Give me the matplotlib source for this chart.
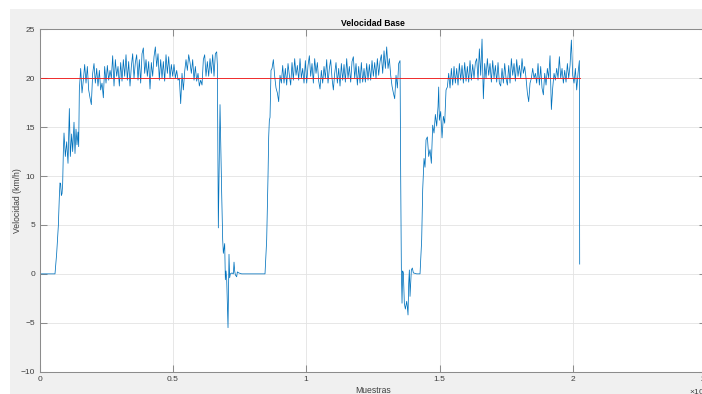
import numpy as np
import matplotlib.pyplot as plt
from matplotlib.patches import Rectangle

plt.rcParams['font.family'] = ['Liberation Sans', 'DejaVu Sans']

# Velocidad base (km/h) frente al número de muestra
PASO = 50  # muestras entre lecturas en los tramos de crucero
REFERENCIA = 20  # km/h

# primer arranque
arranque_muestras = [0, 581, 644, 706, 744, 769, 794, 819, 844, 869, 894, 919, 969,
                     1019, 1069, 1119, 1156, 1206, 1244, 1294, 1331, 1369, 1406, 1444, 1469]
arranque_vel = [0, 0, 2.1, 4.9, 7.9, 9.3, 9.2, 8.0, 8.2, 9.2, 12.5, 14.4, 12.0,
                13.5, 11.3, 16.9, 12.0, 14.3, 12.5, 15.5, 12.3, 14.8, 13.2, 14.5, 13.0]

# primer tramo de crucero
crucero1_inicio = 1494
crucero1_vel = [18.8, 21.0, 18.5, 19.8, 21.4, 19.5, 21.2, 18.8, 18.0, 17.3,
                20.5, 21.5, 19.5, 21.0, 19.2, 20.8, 18.8, 19.5, 18.0, 21.2,
                19.5, 21.3, 19.8, 20.8, 20.0, 22.3, 19.2, 21.9, 20.2, 21.2,
                19.2, 21.6, 19.7, 21.9, 20.2, 22.4, 19.8, 21.7, 19.2, 21.2,
                22.5, 20.0, 21.6, 22.4, 19.8, 21.9, 19.5, 22.5, 23.1, 20.5,
                21.9, 20.2, 21.7, 18.9, 21.6, 20.2, 22.2, 23.2, 21.2, 22.5,
                19.8, 21.9, 20.0, 21.7, 19.7, 22.4, 20.5, 22.2, 20.0, 21.4,
                20.2, 21.4, 20.0, 20.8, 19.8, 20.0, 17.4, 20.5, 18.8, 20.7,
                21.9, 20.8, 22.4, 21.6,
                20.5, 21.9, 19.8, 21.2, 19.7, 20.5, 19.2, 19.8, 19.3, 21.9,
                22.4, 20.2, 21.7, 20.2, 22.0, 20.5, 22.4, 20.2, 22.5, 22.7]

# primera frenada y segundo arranque
caida1_muestras = [6669, 6688, 6706, 6769, 6794, 6831, 6869, 6894, 6919, 6944,
                   6969, 6994, 7019, 7069, 7106, 7131, 7156, 7219, 7269, 7294,
                   7319, 7344, 7394, 7419, 7469, 7581, 8456, 8519, 8569, 8594,
                   8619, 8644, 8681]
caida1_vel = [21.4, 13.0, 4.7, 17.3, 13.5, 8.3, 3.5, 2.1, 2.6, 3.1,
              -0.6, 0.3, -0.5, -5.5, 2.0, -0.4, 0.0, 0.1, 0.0, 1.2,
              0.3, -0.1, -0.3, 0.2, 0.1, 0.0, 0.0, 3.5, 10.0, 14.0,
              15.7, 16.0, 20.8]

# segundo tramo de crucero
crucero2_inicio = 8719
crucero2_vel = [21.0, 21.9, 20.2, 19.0, 18.5, 17.6, 20.3, 19.5, 21.3, 19.5,
                21.0, 19.3, 21.5, 20.3, 19.3, 21.6, 19.8, 22.0, 20.3, 21.3,
                19.8, 22.0, 20.0, 21.0, 19.5, 21.8, 19.5, 21.3, 22.3, 20.2,
                21.5, 19.5, 22.0, 20.5, 21.6, 19.7, 18.9, 20.8, 19.5, 21.2,
                20.0, 21.9, 19.5, 21.0,
                21.9, 20.0, 18.8, 20.5, 21.6, 19.5, 21.0, 19.2, 21.5, 19.8,
                21.4, 19.6, 22.0, 20.0, 21.2, 19.6, 21.7, 22.2, 20.0, 21.5,
                19.3, 21.2, 19.5, 21.6, 19.6, 21.0, 19.6, 21.5, 19.8, 21.4,
                19.8, 21.8, 20.2, 21.6, 20.0, 22.0, 20.3, 21.7, 22.4, 20.5,
                22.8, 21.0, 23.2, 21.0, 22.0, 20.3, 19.2, 18.5, 17.9, 20.3,
                19.0, 21.5, 21.8]

# segunda frenada (marcha atrás) y tercer arranque
caida2_muestras = [13544, 13569, 13594, 13619, 13644, 13681, 13719, 13744, 13769, 13794,
                   13819, 13844, 13869, 13894, 13919, 13944, 13981, 14019, 14144, 14269,
                   14331, 14369, 14419, 14456, 14494, 14544, 14594, 14644, 14694, 14744,
                   14794, 14844, 14894, 14944, 14969, 14994, 15044, 15094, 15144, 15194,
                   15244, 15294]
caida2_vel = [10.0, 0.4, -3.0, 0.3, 0.1, -3.0, -3.6, -3.2, -2.8, -3.4,
              -4.2, -1.0, 0.4, -2.3, -1.0, 0.4, 0.6, 0.1, 0.0, 0.0,
              3.5, 8.6, 11.8, 10.9, 13.7, 14.0, 12.0, 12.7, 11.3, 15.2,
              14.4, 16.3, 15.1, 17.1, 19.1, 15.7, 16.6, 13.9, 16.1, 15.4,
              18.8, 19.1]

# tercer tramo de crucero
crucero3_inicio = 15344
crucero3_vel = [20.5, 19.0, 21.0, 19.3, 21.2, 19.5, 21.0, 19.3, 21.5, 19.8,
                21.3, 19.5, 21.6, 19.7, 21.2, 19.6, 21.8, 19.8, 21.4, 20.0,
                21.6, 22.0, 19.8, 23.0,
                20.3, 24.0, 17.9,
                21.5, 20.0, 22.0, 20.3, 21.5, 19.6, 21.8, 20.0, 21.3, 19.6,
                21.6, 19.5, 19.2, 21.0, 19.5, 21.5, 20.0, 19.3, 21.3, 19.5,
                22.0, 20.3, 21.5, 19.7, 21.9, 20.2, 21.3, 20.0, 22.0, 20.5,
                21.2, 20.0, 18.5, 17.6, 19.5, 20.0, 21.0, 20.0, 20.5, 19.5,
                21.5, 19.3, 21.2, 19.0, 18.3, 20.5, 19.3, 21.0, 20.0, 22.3,
                16.8, 19.0, 20.5, 19.8, 21.0, 20.0, 22.2, 20.0, 21.0, 19.5,
                20.8, 19.6, 21.5, 20.0, 21.3, 23.9, 20.3, 19.5, 21.0, 18.8,
                20.5, 21.8]

# última muestra registrada
final_muestras = [20256]
final_vel = [1.0]

x_ticks = [0, 5000, 10000, 15000, 20000, 25000]
x_labels = ['0', '0.5', '1', '1.5', '2', '2.5']
y_ticks = [-10, -5, 0, 5, 10, 15, 20, 25]


def tramo_uniforme(inicio, valores):
    return inicio + PASO * np.arange(len(valores)), np.array(valores)


partes = [
    (np.array(arranque_muestras), np.array(arranque_vel)),
    tramo_uniforme(crucero1_inicio, crucero1_vel),
    (np.array(caida1_muestras), np.array(caida1_vel)),
    tramo_uniforme(crucero2_inicio, crucero2_vel),
    (np.array(caida2_muestras), np.array(caida2_vel)),
    tramo_uniforme(crucero3_inicio, crucero3_vel),
    (np.array(final_muestras), np.array(final_vel)),
]
muestras = np.concatenate([p[0] for p in partes])
velocidad = np.concatenate([p[1] for p in partes])

W, H = 702, 394
fig = plt.figure(figsize=(W / 100, H / 100), dpi=100, facecolor='white')
fig.add_artist(Rectangle((10 / W, 0), 1, 1 - 9 / H, transform=fig.transFigure,
                         facecolor='#F0F0F0', edgecolor='none', zorder=-10))

ax = fig.add_axes([39.5 / W, 1 - 371.7 / H, 666.7 / W, 342.4 / H])
ax.set_facecolor('white')

ax.plot(muestras, velocidad, color='#0072BD', linewidth=0.55)
ax.plot([0, muestras[-1]], [REFERENCIA, REFERENCIA], color='#F01E1E', linewidth=0.65)

ax.set_xlim(0, 25000)
ax.set_ylim(-10, 25)
ax.set_xticks(x_ticks)
ax.set_xticklabels(x_labels)
ax.set_yticks(y_ticks)

ax.grid(True, color='#E3E3E3', linewidth=0.6)
ax.set_axisbelow(True)
for s in ax.spines.values():
    s.set_color('#8C8C8C')
    s.set_linewidth(0.75)
ax.tick_params(axis='both', direction='in', length=4.7, width=0.75, color='#8C8C8C',
               labelsize=6, labelcolor='#404040', top=True, right=True)
ax.tick_params(axis='x', pad=3)
ax.tick_params(axis='y', pad=3.2)

ax.set_title('Velocidad Base', fontsize=6.2, fontweight='bold', pad=2.5)
ax.set_xlabel('Muestras', fontsize=6.2, color='#404040', va='center')
ax.xaxis.set_label_coords(0.5, -0.054)
ax.set_ylabel('Velocidad (km/h)', fontsize=6.2, color='#404040', va='center')
ax.yaxis.set_label_coords(-0.0337, 0.5)

# factor de escala del eje x, en la esquina inferior derecha
fig.text(689 / W, 1 - 391 / H, '×10$^{4}$', fontsize=6, color='#404040',
         ha='left', va='center')

fig.savefig('out.png', dpi=100, facecolor=fig.get_facecolor())
